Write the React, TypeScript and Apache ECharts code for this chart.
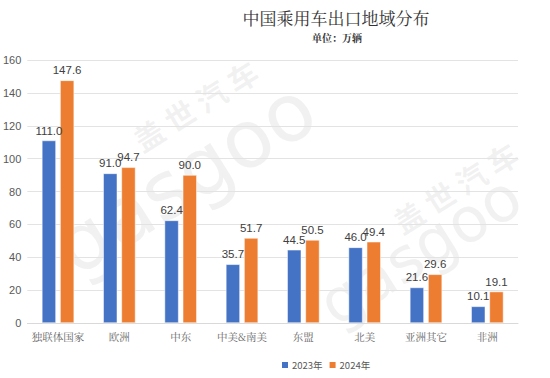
import React, { useEffect, useRef } from "react";
import * as echarts from "echarts";

const categories = ["独联体国家", "欧洲", "中东", "中美&南美", "东盟", "北美", "亚洲其它", "非洲"];
const series2023 = [111.0, 91.0, 62.4, 35.7, 44.5, 46.0, 21.6, 10.1];
const series2024 = [147.6, 94.7, 90.0, 51.7, 50.5, 49.4, 29.6, 19.1];
const seriesNames = ["2023年", "2024年"];
const titleText = "中国乘用车出口地域分布";
const subtitleText = "单位：万辆";

export default function App() {
  const ref = useRef<HTMLDivElement>(null);
  useEffect(() => {
    if (!ref.current) return;
    const chart = echarts.init(ref.current, undefined, { renderer: "svg" });
    const labelCfg = {
      show: true,
      position: "top",
      distance: 4,
      color: "#404040",
      fontSize: 11.5,
      fontFamily: "Liberation Sans, Arial, sans-serif",
      formatter: (p: any) => Number(p.value).toFixed(1),
    };
    const wmFill = "rgba(170,170,170,0.16)";
    const rot = 0.56;
    chart.setOption({
      animation: false,
      backgroundColor: "#ffffff",
      title: [
        {
          text: titleText,
          left: 336,
          top: 8,
          padding: 0,
          textAlign: "center",
          textStyle: {
            fontSize: 17,
            lineHeight: 19,
            fontWeight: "normal",
            color: "#333333",
            fontFamily: "Noto Serif CJK SC, Noto Sans CJK SC, serif",
          },
        },
        {
          text: subtitleText,
          left: 337,
          top: 32,
          padding: 0,
          textAlign: "center",
          textStyle: {
            fontSize: 10,
            lineHeight: 11,
            fontWeight: "bold",
            color: "#333333",
            fontFamily: "Noto Serif CJK SC, Noto Sans CJK SC, serif",
          },
        },
      ],
      graphic: [
        {
          type: "text",
          x: 195,
          y: 105,
          rotation: rot,
          z: -1,
          silent: true,
          style: {
            text: "盖 世 汽 车",
            fontSize: 30,
            fontWeight: "bold",
            fill: wmFill,
            align: "center",
            verticalAlign: "middle",
            fontFamily: "Noto Sans CJK SC",
          },
        },
        {
          type: "text",
          x: 455,
          y: 187,
          rotation: rot,
          z: -1,
          silent: true,
          style: {
            text: "盖 世 汽 车",
            fontSize: 30,
            fontWeight: "bold",
            fill: wmFill,
            align: "center",
            verticalAlign: "middle",
            fontFamily: "Noto Sans CJK SC",
          },
        },
        {
          type: "text",
          x: 185,
          y: 178,
          rotation: rot,
          z: -1,
          silent: true,
          style: {
            text: "gasgoo",
            fontSize: 80,
            fill: wmFill,
            align: "center",
            verticalAlign: "middle",
            fontFamily: "DejaVu Sans",
          },
        },
        {
          type: "text",
          x: 420,
          y: 250,
          rotation: rot,
          z: -1,
          silent: true,
          style: {
            text: "gasgoo",
            fontSize: 62,
            fill: wmFill,
            align: "center",
            verticalAlign: "middle",
            fontFamily: "DejaVu Sans",
          },
        },
      ],
      legend: {
        data: seriesNames,
        top: 355,
        left: 275,
        itemWidth: 8,
        itemHeight: 8,
        itemGap: 5,
        icon: "rect",
        textStyle: {
          fontSize: 9.5,
          color: "#595959",
          padding: [0, 0, 0, -2],
          fontFamily: "Noto Sans CJK SC, sans-serif",
        },
      },
      grid: {
        left: 24,
        right: 32,
        top: 60,
        bottom: 55,
        containLabel: false,
      },
      xAxis: {
        type: "category",
        data: categories,
        axisTick: { show: false },
        axisLine: { lineStyle: { color: "#d9d9d9" } },
        axisLabel: {
          color: "#666666",
          fontSize: 10.5,
          margin: 8,
          interval: 0,
          fontFamily: "Noto Serif CJK SC, Noto Sans CJK SC, serif",
        },
      },
      yAxis: {
        type: "value",
        min: 0,
        max: 160,
        interval: 20,
        axisLine: { show: false },
        axisTick: { show: false },
        splitLine: { lineStyle: { color: "#e3e3e3" } },
        axisLabel: {
          color: "#595959",
          fontSize: 11,
          margin: 6,
          align: "right",
          fontFamily: "Liberation Sans, Arial, sans-serif",
        },
      },
      series: [
        {
          name: seriesNames[0],
          type: "bar",
          data: series2023,
          barWidth: 14,
          barGap: "30%",
          itemStyle: { color: "#4472C4", borderColor: "#ffffff", borderWidth: 0.5 },
          label: labelCfg,
        },
        {
          name: seriesNames[1],
          type: "bar",
          data: series2024,
          barWidth: 14,
          barGap: "30%",
          itemStyle: { color: "#ED7D31", borderColor: "#ffffff", borderWidth: 0.5 },
          label: labelCfg,
        },
      ],
    });
    return () => chart.dispose();
  }, []);
  return <div ref={ref} style={{ width: 550, height: 378, position: "absolute", left: 0, top: 0 }} />;
}
